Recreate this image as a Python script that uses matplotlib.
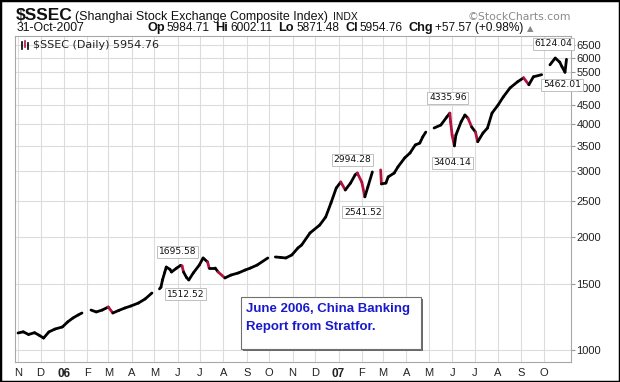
import matplotlib
matplotlib.use('Agg')
import matplotlib.pyplot as plt
import matplotlib.dates as mdates
import pandas as pd
import numpy as np
from matplotlib.collections import LineCollection
from matplotlib.patches import Rectangle

# ---------------- data ----------------
dates = [
    '2005-11-01', '2005-11-08', '2005-11-15', '2005-11-23', '2005-11-29',
    '2005-12-05', '2005-12-12', '2005-12-20', '2005-12-30',
    '2006-01-06', '2006-01-13', '2006-01-20', '2006-01-25',
    '2006-02-06', '2006-02-13', '2006-02-21', '2006-03-01', '2006-03-07',
    '2006-03-15', '2006-03-23', '2006-03-31', '2006-04-10', '2006-04-19',
    '2006-04-28', '2006-05-08', '2006-05-10', '2006-05-12', '2006-05-15',
    '2006-05-17', '2006-05-22', '2006-05-24', '2006-05-31', '2006-06-05',
    '2006-06-07', '2006-06-09', '2006-06-13', '2006-06-16', '2006-06-22',
    '2006-06-30', '2006-07-05', '2006-07-11', '2006-07-13', '2006-07-21',
    '2006-07-25', '2006-08-03', '2006-08-11', '2006-08-21', '2006-08-30',
    '2006-09-06', '2006-09-15', '2006-09-29', '2006-10-09', '2006-10-16',
    '2006-10-23', '2006-10-31', '2006-11-08', '2006-11-13', '2006-11-24',
    '2006-12-07', '2006-12-15', '2006-12-22', '2006-12-29',
    '2007-01-04', '2007-01-10', '2007-01-17', '2007-01-23', '2007-01-26',
    '2007-02-01', '2007-02-05', '2007-02-09', '2007-02-15', '2007-02-26',
    '2007-02-27', '2007-03-05', '2007-03-08', '2007-03-16', '2007-03-21',
    '2007-03-30', '2007-04-06', '2007-04-13', '2007-04-19', '2007-04-23',
    '2007-04-27', '2007-05-08', '2007-05-17', '2007-05-25', '2007-05-29',
    '2007-05-30', '2007-06-01', '2007-06-04', '2007-06-06', '2007-06-13',
    '2007-06-18', '2007-06-22', '2007-06-27', '2007-07-02', '2007-07-05',
    '2007-07-12', '2007-07-18', '2007-07-24', '2007-08-01', '2007-08-08',
    '2007-08-17', '2007-08-27', '2007-09-04', '2007-09-11', '2007-09-17',
    '2007-09-28', '2007-10-09', '2007-10-16', '2007-10-22', '2007-10-25',
    '2007-10-29', '2007-10-31',
]
closes = [
    1110, 1118, 1100, 1112, 1095,
    1076, 1117, 1137, 1152,
    1188, 1217, 1240, 1255,
    1278, 1263, 1278, 1302, 1255,
    1275, 1294, 1310, 1334, 1368,
    1419, 1455, 1470, 1537, 1610,
    1664, 1640, 1614, 1654, 1680,
    1675, 1614, 1560, 1537, 1605,
    1685, 1759, 1716, 1654, 1654,
    1614, 1556, 1584, 1605, 1634,
    1654, 1685, 1759, 1770, 1765,
    1759, 1792, 1870, 1905, 2050,
    2153, 2263, 2467, 2703,
    2804, 2670, 2786, 2928, 2963,
    2800, 2560, 2720, 2983, 3020,
    2771, 2786, 2893, 2963, 3077,
    3252, 3350, 3520, 3560, 3700,
    3810, 3906, 3978, 4180, 4280,
    4050, 3740, 3500, 3740, 4060,
    4230, 4150, 3930, 3810, 3590,
    3787, 3906, 4280, 4496, 4728,
    4996, 5187, 5315, 5093, 5348,
    5418, 5755, 6000, 5854, 5690,
    5500, 5954.76,
]
# market closures (line is broken across them)
holidays = ['2006-01-30', '2006-05-03', '2006-10-04', '2007-02-20', '2007-05-03', '2007-10-03']

ann_dates = ['2006-06-05', '2006-06-16', '2007-01-26', '2007-02-05',
             '2007-06-04', '2007-05-29', '2007-10-16', '2007-10-29']
ann_vals = [1695.58, 1512.52, 2994.28, 2541.52, 3404.14, 4335.96, 6124.04, 5462.01]

month_ticks = pd.date_range('2005-11-01', '2007-10-01', freq='MS')
month_labels = ['N', 'D', '06', 'F', 'M', 'A', 'M', 'J', 'J', 'A', 'S', 'O',
                'N', 'D', '07', 'F', 'M', 'A', 'M', 'J', 'J', 'A', 'S', 'O']
y_ticks = [1000, 1500, 2000, 2500, 3000, 3500, 4000, 4500, 5000, 5500, 6000, 6500]

# ---------------- figure ----------------
W, H = 620, 382
fig = plt.figure(figsize=(W / 100, H / 100), dpi=100)
fig.patch.set_facecolor('white')

def fx(x):
    return x / W

def fy(y):
    return 1 - y / H

L, R, T, B = 15, 571, 36, 362
ax = fig.add_axes([fx(L), fy(B), (R - L) / W, (B - T) / H])
ax.set_yscale('log')

xn = mdates.date2num(pd.to_datetime(dates))
c = np.array(closes, dtype=float)
hol = mdates.date2num(pd.to_datetime(holidays))

segs, cols = [], []
for i in range(len(xn) - 1):
    if np.any((hol > xn[i]) & (hol < xn[i + 1])):
        continue
    segs.append([(xn[i], c[i]), (xn[i + 1], c[i + 1])])
    cols.append('#b3123e' if c[i + 1] / c[i] - 1 < -0.035 else 'black')
lc = LineCollection(segs, colors=cols, linewidths=2.0, capstyle='round', zorder=3)
ax.add_collection(lc)

ax.set_xlim(mdates.date2num(pd.Timestamp('2005-10-28')), mdates.date2num(pd.Timestamp('2007-11-06')))
ax.set_ylim(929, 6870)

ax.yaxis.tick_right()
ax.set_yticks(y_ticks)
ax.set_yticklabels([str(v) for v in y_ticks])
ax.yaxis.set_minor_locator(matplotlib.ticker.NullLocator())
ax.tick_params(axis='y', which='major', length=3, width=0.8, color='#999999', pad=1,
               labelsize=8, labelcolor='#222222')
for t in ax.get_yticklabels():
    t.set_fontfamily('Liberation Sans')

ax.set_xticks(mdates.date2num(month_ticks))
ax.set_xticklabels(month_labels)
ax.tick_params(axis='x', length=0, pad=4, labelsize=8, labelcolor='#222222')
for t in ax.get_xticklabels():
    t.set_fontfamily('Liberation Sans')
    if t.get_text().isdigit():
        t.set_fontweight('bold')
        t.set_fontsize(8.5)

ax.grid(True, which='major', color='#dcdcdc', linewidth=0.8)
ax.set_axisbelow(True)
for s in ax.spines.values():
    s.set_color('#a8a8a8')
    s.set_linewidth(0.8)

# extreme value labels
offs = [(-3, 12), (-3.5, -11.5), (-5, 11.5), (-2, -14), (-2, -12.5), (-2, 13), (-2, 11), (-3, -11.5)]
for d, v, (dx, dy) in zip(ann_dates, ann_vals, offs):
    ax.annotate(f'{v:.2f}', xy=(mdates.date2num(pd.Timestamp(d)), v),
                xytext=(dx * 0.72, dy * 0.72), textcoords='offset points',
                ha='center', va='center', fontsize=6.6, family='DejaVu Sans', color='#111111',
                bbox=dict(boxstyle='square,pad=0.18', fc='white', ec='#b5b5b5', lw=0.6),
                annotation_clip=False, zorder=6)

# legend-like text in the plot
ax.text(fx(33 - L) * W / (R - L), 1 - (45 - T) / (B - T), '$SSEC (Daily) 5954.76',
        transform=ax.transAxes, fontsize=8, family='DejaVu Sans', color='#222222',
        va='center', ha='left')
# tiny bar icon
for xx, y0, y1, col in [(22, 42, 49, 'black'), (25, 41, 47, '#b3123e'), (28, 43, 49, 'black')]:
    fig.add_artist(plt.Line2D([fx(xx), fx(xx)], [fy(y0), fy(y1)], color=col, lw=1.2))

# annotation box
bx0, by0, bx1, by1 = 241, 297, 421, 349
fig.add_artist(Rectangle((fx(bx0 + 2), fy(by1 + 2)), (bx1 - bx0) / W, (by1 - by0) / H,
                         transform=fig.transFigure, fc='#6a6a6a', ec='none', zorder=7))
fig.add_artist(Rectangle((fx(bx0), fy(by1)), (bx1 - bx0) / W, (by1 - by0) / H,
                         transform=fig.transFigure, fc='white', ec='#707070', lw=0.8, zorder=8))
fig.text(fx(246), fy(309), 'June 2006, China Banking', fontsize=9.5, fontweight='bold',
         family='Liberation Sans', color='#1a1acc', va='center', ha='left', zorder=9)
fig.text(fx(246), fy(327), 'Report from Stratfor.', fontsize=9.5, fontweight='bold',
         family='Liberation Sans', color='#1a1acc', va='center', ha='left', zorder=9)

# header
renderer = fig.canvas.get_renderer()

def chain(parts, x0, ybase):
    x = x0
    for txt, kw, gap in parts:
        t = fig.text(fx(x), fy(ybase), txt, va='baseline', ha='left', **kw)
        bb = t.get_window_extent(renderer)
        x = bb.x1 + gap
    return x

reg = dict(family='Liberation Sans', color='#111111')
chain([('$SSEC', dict(fontsize=12.5, fontweight='bold', **reg), 2),
       ('(Shanghai Stock Exchange Composite Index)', dict(fontsize=9, **reg), 5),
       ('INDX', dict(fontsize=7.5, **reg), 0)], 16, 20)
fig.text(fx(571), fy(20), '\u00a9StockCharts.com', fontsize=7.8, family='DejaVu Sans',
         color='#8a8a8a', ha='right', va='baseline')

fig.text(fx(17), fy(31), '31-Oct-2007', fontsize=8.8, va='baseline', ha='left', **reg)
bold = dict(fontsize=9.2, fontweight='bold', **reg)
norm = dict(fontsize=8.6, **reg)
chain([('Op', bold, 2), ('5984.71', norm, 6),
       ('Hi', bold, 2), ('6002.11', norm, 6),
       ('Lo', bold, 2), ('5871.48', norm, 6),
       ('Cl', bold, 2), ('5954.76', norm, 6),
       ('Chg', bold, 2), ('+57.57 (+0.98%)', norm, 3),
       ('\u25b2', dict(fontsize=6, family='DejaVu Sans', color='#888888'), 0)], 147, 31)

# outer frame
fig.add_artist(Rectangle((0, 0), 1, 1, transform=fig.transFigure, fill=False,
                         ec='black', lw=2.5, zorder=20))

fig.savefig('out.png', dpi=100, facecolor='white')
